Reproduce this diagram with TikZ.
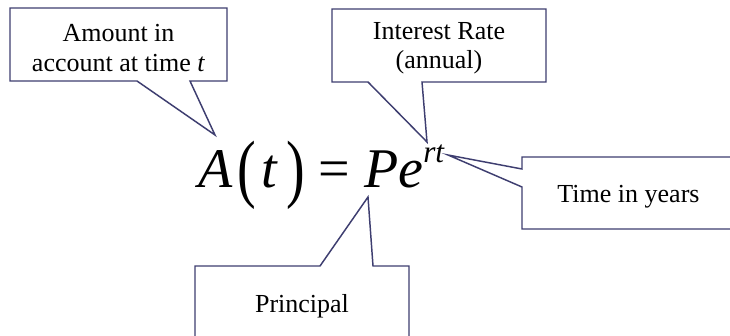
\documentclass[tikz,border=0pt]{standalone}
\usepackage{fontspec}
\usepackage{graphicx}
\setmainfont{Liberation Serif}
\definecolor{calloutblue}{RGB}{62,62,112}
\newcommand{\labelfont}{\fontsize{19.5}{22}\selectfont}
\newcommand{\eqfont}{\fontsize{42}{48}\selectfont}
\newcommand{\tallparen}[1]{\raisebox{-5pt}{\scalebox{1}[1.35]{#1}}}
\tikzset{
  callout/.style={draw=calloutblue, line width=1.1pt, fill=white},
  calltext/.style={font=\labelfont, align=center, inner sep=0pt}
}
\begin{document}
\begin{tikzpicture}[x=0.75pt,y=-0.75pt]
\useasboundingbox (0,0) rectangle (730,335);

% the formula
\node[anchor=base west, inner sep=0pt, font=\eqfont] (eq) at (198,187)
  {\textit{A}\hspace{3.75pt}\tallparen{(}\hspace{3.75pt}\textit{t}\hspace{6.5pt}\tallparen{)}\hspace{10pt}=\hspace{10.5pt}\textit{Pe}\raisebox{18.75pt}{\fontsize{23.5}{24}\selectfont\textit{rt}}};

% TIPS
\coordinate (amounttip) at (215,135);
\coordinate (ratetip) at (427,142);
\coordinate (timetip) at (448,155);
\coordinate (principaltip) at (368,197);

% CALLOUTS
\draw[callout] (10,8) -- (227,8) -- (227,81) -- (190,81) -- (amounttip)
   -- (137,81) -- (10,81) -- cycle;
\draw[callout] (332,9) -- (546,9) -- (546,82) -- (422,82) -- (ratetip)
   -- (368,82) -- (332,82) -- cycle;
\draw[callout] (731,157) -- (522,157) -- (522,169) -- (timetip)
   -- (522,187) -- (522,229) -- (731,229);
\draw[callout] (195,336) -- (195,266) -- (320,266) -- (principaltip)
   -- (373,266) -- (409,266) -- (409,336);

% NOTES
\node[calltext] (amount) at (118.5,48) {Amount in\\account at time \textit{t}};
\node[calltext] (rate) at (439,48.5) {Interest Rate\\(annual)};
\node[calltext, anchor=base] (time) at (628.5,202) {Time in years};
\node[calltext, anchor=base] (principal) at (302,312) {Principal};

\end{tikzpicture}
\end{document}
